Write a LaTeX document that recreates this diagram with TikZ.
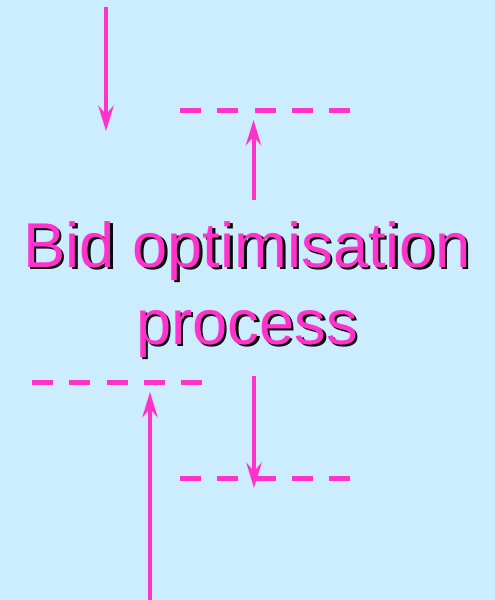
\documentclass[tikz,border=0pt]{standalone}
\usepackage{fontspec}
\setmainfont{Liberation Sans}
\usetikzlibrary{arrows.meta}
\definecolor{skyblue}{HTML}{CCECFF}
\definecolor{bidpink}{HTML}{FF33CC}

\begin{document}
\begin{tikzpicture}[x=0.75pt, y=-0.75pt,
  flow/.style={draw=bidpink, line width=3pt,
    -{Stealth[length=19pt, width=11.5pt, inset=6.5pt]}},
  level/.style={draw=bidpink, line width=3.75pt,
    dash pattern=on 15.75pt off 12.2pt},
  title/.style={align=center, inner sep=0pt,
    font=\fontsize{47.5}{57.75}\selectfont}]
  % background
  \fill[skyblue] (0,0) rectangle (495,600);
  \useasboundingbox (0,0) rectangle (495,600);

  % title, with its black shadow underneath
  \node[title, text=black] (shade) at (249.5,292) {Bid optimisation\\process};
  \node[title, text=bidpink] (bid) at (247,290) {Bid optimisation\\process};

  % dashed levels
  \coordinate (upL) at (180,110);   \coordinate (upR) at (351,110);
  \coordinate (midL) at (32,382);   \coordinate (midR) at (203,382);
  \coordinate (lowL) at (180,478);  \coordinate (lowR) at (351,478);
  \draw[level] (upL) -- (upR);
  \draw[level] (midL) -- (midR);
  \draw[level] (lowL) -- (lowR);

  % arrow ends
  \coordinate (inTop) at (106,7);    \coordinate (inTip) at (106,131);
  \coordinate (riseA) at (253.5,200); \coordinate (riseB) at (253.5,120);
  \coordinate (dropA) at (254,376);  \coordinate (dropB) at (254,488);
  \coordinate (baseA) at (150,600);  \coordinate (baseB) at (150,392);

  % arrows
  \draw[flow] (inTop) -- (inTip);
  \draw[flow] (riseA) -- (riseB);
  \draw[flow] (dropA) -- (dropB);
  \draw[flow] (baseA) -- (baseB);
\end{tikzpicture}
\end{document}
